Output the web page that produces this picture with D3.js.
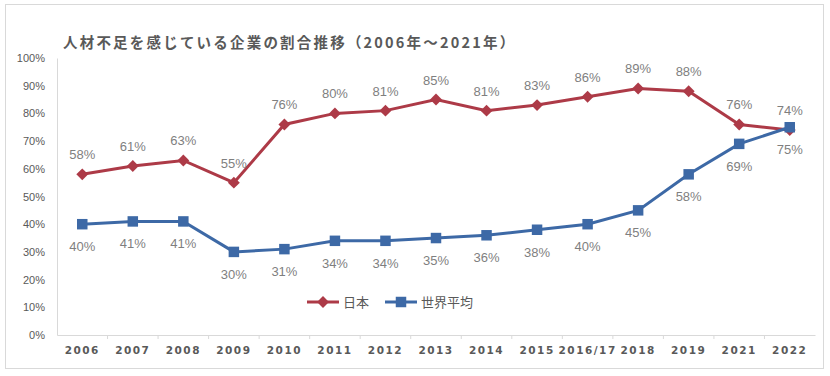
<!DOCTYPE html>
<html>
<head>
<meta charset="utf-8">
<script src="https://cdn.jsdelivr.net/npm/d3@7"></script>
<style>
  body { margin: 0; background: #fff; }
  svg { display: block; }
</style>
</head>
<body>
<div id="chart"></div>
<script>
// data
const years = ["2006", "2007", "2008", "2009", "2010", "2011", "2012", "2013", "2014", "2015", "2016/17", "2018", "2019", "2021", "2022"];
const japan = [58, 61, 63, 55, 76, 80, 81, 85, 81, 83, 86, 89, 88, 76, 74];
const world = [40, 41, 41, 30, 31, 34, 34, 35, 36, 38, 40, 45, 58, 69, 75];
const yTicks = [0, 10, 20, 30, 40, 50, 60, 70, 80, 90, 100];

const W = 830, H = 376;
const font = "'Noto Sans CJK JP', 'Noto Sans', sans-serif";

const svg = d3.select("#chart").append("svg")
    .attr("width", W)
    .attr("height", H);

// outer frame
svg.append("rect")
    .attr("x", 5.5).attr("y", 4.5)
    .attr("width", 818).attr("height", 364)
    .attr("fill", "#fff")
    .attr("stroke", "#d9d9d9");

const margin = { top: 58, left: 57, right: 15, bottom: 41 };

const x = d3.scaleBand()
    .domain(years)
    .range([margin.left, W - margin.right]);

const y = d3.scaleLinear()
    .domain([0, 100])
    .range([H - margin.bottom, margin.top]);

const cx = d => x(d) + x.bandwidth() / 2;

// title
svg.append("text")
    .attr("x", 63).attr("y", 48)
    .style("font-family", font)
    .style("font-size", "14.5px")
    .style("font-weight", "bold")
    .style("letter-spacing", "2.2px")
    .style("fill", "#595959")
    .text("人材不足を感じている企業の割合推移（2006年～2021年）");

// y axis
const yAxis = svg.append("g")
    .attr("transform", `translate(${margin.left},0)`)
    .call(d3.axisLeft(y).tickValues(yTicks).tickSize(0).tickPadding(12).tickFormat(d => d + "%"));
yAxis.select(".domain").attr("stroke", "#d9d9d9");
yAxis.selectAll("text")
    .style("font-family", "'Liberation Sans', sans-serif")
    .style("font-size", "11px")
    .style("fill", "#595959");

// x axis
const xAxis = svg.append("g")
    .attr("transform", `translate(0,${y(0)})`)
    .call(d3.axisBottom(x).tickSize(0).tickPadding(12));
xAxis.select(".domain").attr("stroke", "#d9d9d9");
xAxis.selectAll("text")
    .style("font-family", "'DejaVu Sans', sans-serif")
    .style("font-size", "10.5px")
    .style("font-weight", "bold")
    .style("letter-spacing", "1.5px")
    .style("fill", "#595959");

// tick marks between categories
xAxis.selectAll(".sep")
    .data(years.slice(1))
    .enter().append("line")
    .attr("x1", d => x(d)).attr("x2", d => x(d))
    .attr("y1", 0).attr("y2", 4)
    .attr("stroke", "#d9d9d9");

const line = d3.line()
    .x((d, i) => cx(years[i]))
    .y(d => y(d));

const series = [
    { name: "日本", values: japan, color: "#ad3a47", marker: "diamond", labelDy: -15 },
    { name: "世界平均", values: world, color: "#3d69a6", marker: "square", labelDy: 27 }
];

const symbolFor = m => m === "diamond"
    ? d3.symbol().type(d3.symbolDiamond2).size(90)
    : d3.symbol().type(d3.symbolSquare).size(110);

series.forEach(s => {
    svg.append("path")
        .datum(s.values)
        .attr("fill", "none")
        .attr("stroke", s.color)
        .attr("stroke-width", 3)
        .attr("d", line);

    svg.selectAll(null)
        .data(s.values)
        .enter().append("path")
        .attr("transform", (d, i) => `translate(${cx(years[i])},${y(d)})`)
        .attr("d", symbolFor(s.marker))
        .attr("fill", s.color);

    svg.selectAll(null)
        .data(s.values)
        .enter().append("text")
        .attr("x", (d, i) => cx(years[i]))
        .attr("y", d => y(d) + s.labelDy)
        .attr("text-anchor", "middle")
        .style("font-family", "'Liberation Sans', sans-serif")
        .style("font-size", "13px")
        .style("fill", "#7f7f7f")
        .text(d => d + "%");
});

// legend
const legend = svg.append("g").attr("transform", "translate(307,302)");
const lg = legend.selectAll("g")
    .data(series)
    .enter().append("g")
    .attr("transform", (d, i) => `translate(${i * 78},0)`);
lg.append("line")
    .attr("x1", 0).attr("x2", 32)
    .attr("stroke", d => d.color)
    .attr("stroke-width", 3);
lg.append("path")
    .attr("transform", "translate(16,0)")
    .attr("d", d => symbolFor(d.marker)())
    .attr("fill", d => d.color);
lg.append("text")
    .attr("x", 36).attr("y", 5)
    .style("font-family", font)
    .style("font-size", "13px")
    .style("fill", "#595959")
    .text(d => d.name);
</script>
</body>
</html>
